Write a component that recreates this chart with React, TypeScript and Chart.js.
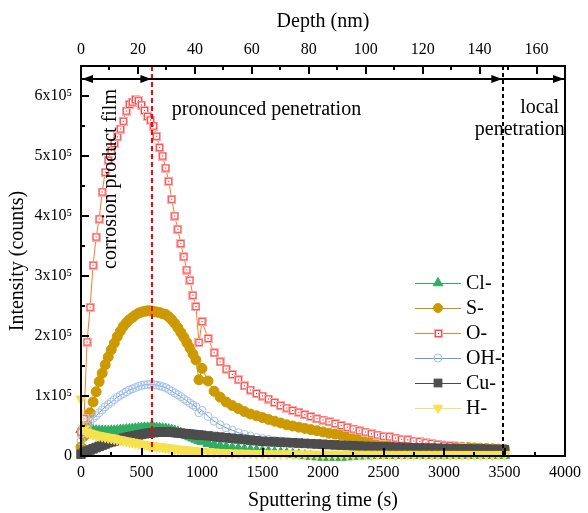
import React, { useEffect, useRef } from 'react';
import { Chart, registerables } from 'chart.js';

Chart.register(...registerables);

// ---------- data (intensity in units of 1e3 counts) ----------
const sputterTime = [
  0, 25, 50, 75, 100, 125, 150, 175, 200, 225,
  250, 275, 300, 325, 350, 375, 400, 425, 450, 475,
  500, 525, 550, 575, 600, 625, 650, 675, 700, 725,
  750, 775, 800, 825, 850, 875, 900, 925, 950, 975,
  1000,
  1050, 1100, 1150, 1200, 1250, 1300, 1350, 1400, 1450, 1500,
  1550, 1600, 1650, 1700, 1750, 1800, 1850, 1900, 1950, 2000,
  2050, 2100, 2150, 2200, 2250, 2300, 2350, 2400, 2450, 2500,
  2550, 2600, 2650, 2700, 2750, 2800, 2850, 2900, 2950, 3000,
  3050, 3100, 3150, 3200, 3250, 3300, 3350, 3400, 3450, 3500,
];

const clMinus = [
  44, 45, 44, 43, 42.5, 42, 42, 41.5, 41.5, 41.5,
  42, 42, 42.5, 43, 43.5, 44, 44.5, 45, 45.5, 46,
  46.5, 47, 47, 47, 47, 46.5, 46, 45.5, 45, 44,
  43, 41.5, 40, 38, 36, 34, 32, 30, 28, 26,
  24,
  21, 18.5, 16.5, 15, 13.5, 12, 11, 10, 9, 8,
  7, 6, 5, 4, 3, 2, 0.5, -0.5, -1.5, -2,
  -2, -2, -2, -1.5, -0.5, 0, 0.5, 0.5, 1, 1,
  1, 1, 1, 1, 1, 1, 1, 1, 1, 1,
  1, 1, 1, 1, 1, 1, 1, 1, 1, 1,
];

const sMinus = [
  15, 33, 52, 72, 90, 107, 124, 138, 152, 165,
  177, 188, 199, 208, 216, 222, 227, 231, 235, 238,
  240, 241, 242, 242, 241, 240, 239, 237, 236, 232,
  227, 221, 214, 206, 198, 189, 180, 170, 160, 127,
  146,
  125, 108, 98, 90, 84, 79, 74, 70, 67, 64,
  61, 58, 55, 52, 50, 48, 46, 44, 42, 40,
  38, 36.5, 35, 33.5, 32, 31, 30, 28.5, 27.5, 26.5,
  25, 24, 23, 22, 21, 20, 19, 18, 17, 16.5,
  16, 15, 14.5, 14, 13.5, 13, 12.5, 12, 11.5, 11,
];

const oMinus = [
  40, 62, 190, 248, 318, 365, 395, 440, 473, 493,
  509, 521, 532, 545, 558, 575, 586, 590, 594, 592,
  585, 576, 566, 560, 550, 533, 514, 500, 480, 458,
  428, 400, 378, 354, 332, 310, 293, 268, 249, 189,
  224,
  196, 172, 157, 145, 136, 127, 117, 110, 104, 100,
  95, 89, 84, 80, 76, 73, 69, 66, 62, 60,
  57, 54, 51, 48, 45, 42, 40, 37, 35, 33,
  32, 30, 28, 27, 25, 24, 22, 21, 19.5, 18,
  17, 15, 14, 13, 12, 11, 10, 9.5, 9, 8,
];

const ohMinus = [
  25, 42, 50, 57, 63, 67, 72, 77, 82, 86,
  90, 94, 98, 101, 104, 107, 110, 112, 114, 116,
  117.5, 118.5, 119, 119.5, 119, 118, 117, 115.5, 114, 111,
  108, 105, 102, 99, 95, 92, 88, 85, 82, 72,
  76,
  66, 58, 52, 47, 43, 39, 36, 33.5, 31, 29,
  27.5, 26, 25, 24, 23, 22, 21, 20, 19.5, 19,
  18.5, 18, 17.5, 17, 16.5, 16, 15.5, 15, 14.5, 14,
  13.5, 13, 12.5, 12, 11.8, 11.5, 11.2, 11, 10.7, 10.4,
  10.1, 9.8, 9.5, 9.2, 9, 8.7, 8.4, 8.2, 8, 7.8,
];

const cuMinus = [
  3, 6, 8, 10, 12, 14, 16, 18, 20, 22,
  23.5, 25, 26.5, 28, 29.5, 31, 32, 33, 34, 35,
  36, 37, 38, 38.5, 39, 39.5, 40, 40, 40, 40,
  39.5, 39, 38.5, 38, 37.5, 37, 36.5, 36, 35.5, 35,
  34.5,
  33.5, 32.5, 31.5, 30.5, 29.5, 28.5, 27.5, 26.5, 25.5, 24.5,
  24, 23.5, 23, 22.5, 22, 21.5, 21, 20.5, 20, 19.5,
  19, 18.5, 18, 17.5, 17, 16.5, 16, 15.8, 15.5, 15.2,
  15, 14.7, 14.4, 14.1, 13.8, 13.5, 13.3, 13.1, 12.9, 12.7,
  12.5, 12.3, 12.1, 11.9, 11.7, 11.5, 11.3, 11.1, 10.9, 10.7,
];

const hMinus = [
  95, 45, 40, 38, 36.5, 35, 34, 33, 32, 31,
  30, 29, 28, 27, 26, 25, 24, 23, 22, 21,
  20, 19, 18, 17.5, 17, 16, 15.5, 15, 14, 13.5,
  13, 12, 11.5, 11, 10.5, 10, 9.5, 9, 8.5, 8,
  7.5,
  7, 6.5, 6, 5.5, 5, 4.8, 4.6, 4.4, 4.2, 4,
  3.9, 3.8, 3.7, 3.6, 3.5, 3.4, 3.3, 3.2, 3.1, 3,
  3, 3, 3, 2.9, 2.9, 2.9, 2.8, 2.8, 2.8, 2.8,
  2.7, 2.7, 2.7, 2.7, 2.7, 2.7, 2.7, 2.7, 2.7, 2.7,
  2.6, 2.6, 2.6, 2.6, 2.6, 2.6, 2.6, 2.6, 2.6, 2.6,
];

const seriesLabels = ['Cl-', 'S-', 'O-', 'OH-', 'Cu-', 'H-'];
const seriesValues = [clMinus, sMinus, oMinus, ohMinus, cuMinus, hMinus];
const UNIT = 1000;

// axes and tick labels
const timeMax = 4000;
const timeTicks = [0, 500, 1000, 1500, 2000, 2500, 3000, 3500, 4000];
const intensityMax = 650000;
const intensityTicks = [0, 100000, 200000, 300000, 400000, 500000, 600000];
const intensityTickLabels = ['0', '1x10\u2075', '2x10\u2075', '3x10\u2075', '4x10\u2075', '5x10\u2075', '6x10\u2075'];
const depthMax = 170; // nm at 4000 s
const depthTicks = [0, 20, 40, 60, 80, 100, 120, 140, 160];

// annotation anchors (in axis values)
const filmEndTime = 590;
const localStartTime = 3490;
const arrowLevel = 628000;

const FONT = '"Liberation Serif", "Times New Roman", serif';

type Spec = { line: string; fill: string; stroke: string; style: string; r: number; rot: number; lr: number };
const styles: Spec[] = [
  { line: '#2FAE62', fill: '#2FAE62', stroke: '#2FAE62', style: 'triangle', r: 6, rot: 0, lr: 5.5 },
  { line: '#C99700', fill: '#CC9A00', stroke: '#CC9A00', style: 'circle', r: 5, rot: 0, lr: 4.5 },
  { line: '#FF7A2E', fill: '#FFFFFF', stroke: '#FF4A4A', style: 'squaredot', r: 4.5, rot: 0, lr: 4.5 },
  { line: '#6C98CF', fill: 'rgba(255,255,255,0)', stroke: '#A3C2EA', style: 'circle', r: 4, rot: 0, lr: 4 },
  { line: '#4A4A4A', fill: '#4D4D4D', stroke: '#4D4D4D', style: 'rect', r: 6, rot: 0, lr: 5.5 },
  { line: '#F3E36A', fill: '#F6E24E', stroke: '#F6E24E', style: 'triangle', r: 6, rot: 180, lr: 5.5 },
];

function makeSquareDot(): HTMLCanvasElement {
  const c = document.createElement('canvas');
  c.width = 9;
  c.height = 9;
  const g = c.getContext('2d')!;
  g.fillStyle = '#FFFFFF';
  g.fillRect(0, 0, 9, 9);
  g.lineWidth = 1;
  g.strokeStyle = '#FFB0B0';
  g.strokeRect(0.5, 0.5, 8, 8);
  g.strokeStyle = '#FF4545';
  g.strokeRect(1.5, 1.5, 6, 6);
  g.fillStyle = '#E00000';
  g.fillRect(4, 4, 1, 1);
  return c;
}

function drawMarker(ctx: CanvasRenderingContext2D, s: Spec, x: number, y: number, img: HTMLCanvasElement) {
  const r = s.lr;
  ctx.save();
  ctx.fillStyle = s.fill;
  ctx.strokeStyle = s.stroke;
  ctx.lineWidth = 1;
  ctx.setLineDash([]);
  if (s.style === 'squaredot') {
    ctx.drawImage(img, Math.round(x - img.width / 2), Math.round(y - img.height / 2));
  } else if (s.style === 'circle') {
    ctx.beginPath();
    ctx.arc(x, y, r, 0, Math.PI * 2);
    ctx.fill();
    ctx.stroke();
  } else if (s.style === 'rect') {
    const h = r * Math.SQRT1_2;
    ctx.fillRect(x - h, y - h, 2 * h, 2 * h);
    ctx.strokeRect(x - h, y - h, 2 * h, 2 * h);
  } else {
    let rad = (s.rot * Math.PI) / 180;
    ctx.beginPath();
    for (let i = 0; i < 3; i++) {
      const px = x + Math.sin(rad) * r;
      const py = y - Math.cos(rad) * r;
      if (i === 0) ctx.moveTo(px, py);
      else ctx.lineTo(px, py);
      rad += (2 * Math.PI) / 3;
    }
    ctx.closePath();
    ctx.fill();
    ctx.stroke();
  }
  ctx.restore();
}

export default function App() {
  const ref = useRef<HTMLCanvasElement>(null);

  useEffect(() => {
    const canvas = ref.current;
    if (!canvas) return;
    const squareDot = makeSquareDot();

    const datasets = seriesLabels.map((label, i) => {
      const s = styles[i];
      return {
        label,
        data: sputterTime.map((t, k) => ({ x: t, y: seriesValues[i][k] * UNIT })),
        borderColor: s.line,
        borderWidth: 1,
        backgroundColor: s.fill,
        pointStyle: s.style === 'squaredot' ? squareDot : s.style,
        pointRotation: s.rot,
        pointRadius: s.r,
        pointBackgroundColor: s.fill,
        pointBorderColor: s.stroke,
        pointBorderWidth: 1,
        tension: 0,
        fill: false,
        clip: 8,
        order: seriesLabels.length - 1 - i,
        xAxisID: 'x',
        yAxisID: 'y',
      };
    });

    const overlay = {
      id: 'overlay',
      afterDraw(chart: any) {
        const ctx: CanvasRenderingContext2D = chart.ctx;
        const { left, right, top, bottom } = chart.chartArea;
        const xs = chart.scales.x;
        const ys = chart.scales.y;
        const xt = chart.scales.x2;
        ctx.save();

        // region boundaries
        ctx.lineWidth = 2;
        ctx.strokeStyle = '#FF0000';
        ctx.setLineDash([5, 3]);
        let px = Math.round(xs.getPixelForValue(filmEndTime));
        ctx.beginPath();
        ctx.moveTo(px, top);
        ctx.lineTo(px, bottom - 4);
        ctx.stroke();
        ctx.strokeStyle = '#000000';
        ctx.setLineDash([4, 3]);
        px = Math.round(xs.getPixelForValue(localStartTime));
        ctx.beginPath();
        ctx.moveTo(px, top);
        ctx.lineTo(px, bottom);
        ctx.stroke();
        ctx.setLineDash([]);

        // frame
        ctx.strokeStyle = '#000000';
        ctx.lineWidth = 2;
        ctx.strokeRect(left, top, right - left, bottom - top);

        // inward ticks (major at labelled ticks, minor halfway)
        ctx.beginPath();
        const yStep = intensityTicks[1] - intensityTicks[0];
        for (let v = 0; v <= intensityMax + 1; v += yStep / 2) {
          const y = Math.round(ys.getPixelForValue(v));
          const len = v % yStep === 0 ? 8 : 4;
          ctx.moveTo(left, y);
          ctx.lineTo(left + len, y);
        }
        const xStep = timeTicks[1] - timeTicks[0];
        for (let v = 0; v <= timeMax; v += xStep / 2) {
          const x = Math.round(xs.getPixelForValue(v));
          const len = v % xStep === 0 ? 8 : 4;
          ctx.moveTo(x, bottom);
          ctx.lineTo(x, bottom - len);
        }
        const dStep = depthTicks[1] - depthTicks[0];
        for (let v = 0; v <= depthMax; v += dStep / 2) {
          const x = Math.round(xt.getPixelForValue(v));
          const len = v % dStep === 0 ? 8 : 4;
          ctx.moveTo(x, top);
          ctx.lineTo(x, top + len);
        }
        ctx.stroke();

        // arrows
        const ay = Math.round(ys.getPixelForValue(arrowLevel));
        ctx.beginPath();
        ctx.moveTo(left, ay);
        ctx.lineTo(right, ay);
        ctx.stroke();
        ctx.fillStyle = '#000000';
        const head = (tip: number, dir: number) => {
          ctx.beginPath();
          ctx.moveTo(tip, ay);
          ctx.lineTo(tip - dir * 11, ay - 4);
          ctx.lineTo(tip - dir * 11, ay + 4);
          ctx.closePath();
          ctx.fill();
        };
        head(left + 1, -1);
        head(xs.getPixelForValue(filmEndTime) - 1, 1);
        head(xs.getPixelForValue(localStartTime) - 1, 1);
        head(right - 1, 1);

        // labels
        ctx.font = `20px ${FONT}`;
        ctx.fillStyle = '#000000';
        ctx.textBaseline = 'alphabetic';
        ctx.textAlign = 'left';
        ctx.fillText('pronounced penetration', xs.getPixelForValue(750), top + 49);
        ctx.fillText('local', xs.getPixelForValue(3630), top + 47);
        ctx.fillText('penetration', xs.getPixelForValue(3255), top + 69);
        ctx.save();
        ctx.translate(xs.getPixelForValue(245), top + 113);
        ctx.rotate(-Math.PI / 2);
        ctx.textAlign = 'center';
        ctx.textBaseline = 'middle';
        ctx.fillText('corrosion product film', 0, 0);
        ctx.restore();

        // legend
        const lx = 415;
        const ly0 = 283;
        const rowH = 25;
        seriesLabels.forEach((label, i) => {
          const s = styles[i];
          const y = ly0 + i * rowH;
          ctx.strokeStyle = s.line;
          ctx.lineWidth = 1;
          ctx.beginPath();
          ctx.moveTo(lx, y + 0.5);
          ctx.lineTo(lx + 46, y + 0.5);
          ctx.stroke();
          drawMarker(ctx, s, lx + 23, y, squareDot);
          ctx.fillStyle = '#000000';
          ctx.font = `20px ${FONT}`;
          ctx.textAlign = 'left';
          ctx.textBaseline = 'middle';
          ctx.fillText(label, lx + 51, y + 1);
        });

        ctx.restore();
      },
    };

    const tickFont = { family: FONT, size: 16 };
    const titleFont = { family: FONT, size: 20, weight: 'normal' as const };
    const setTicks = (values: number[]) => (scale: any) => {
      scale.ticks = values.map((value) => ({ value }));
    };

    const chart = new Chart(canvas, {
      type: 'line',
      data: { datasets: datasets as any },
      options: {
        animation: false,
        responsive: false,
        maintainAspectRatio: false,
        devicePixelRatio: 1,
        layout: { padding: { left: 0, right: 18, top: 0, bottom: 0 } },
        plugins: { legend: { display: false }, tooltip: { enabled: false } },
        scales: {
          x: {
            type: 'linear',
            position: 'bottom',
            bounds: 'data',
            min: 0,
            max: timeMax,
            grid: { display: false, drawTicks: false },
            border: { display: false },
            afterBuildTicks: setTicks(timeTicks),
            ticks: {
              autoSkip: false,
              maxRotation: 0,
              padding: 7,
              color: '#000',
              font: tickFont,
              callback: (v: any) => String(v),
            },
            title: { display: true, text: 'Sputtering time (s)', color: '#000', font: titleFont, padding: { top: 0, bottom: 0 } },
            afterFit: (s: any) => {
              s.height = 57;
            },
          },
          x2: {
            type: 'linear',
            position: 'top',
            bounds: 'data',
            min: 0,
            max: depthMax,
            grid: { display: false, drawTicks: false },
            border: { display: false },
            afterBuildTicks: setTicks(depthTicks),
            ticks: {
              autoSkip: false,
              maxRotation: 0,
              padding: 7,
              color: '#000',
              font: tickFont,
              callback: (v: any) => String(v),
            },
            title: { display: true, text: 'Depth (nm)', color: '#000', font: titleFont, padding: { top: 10, bottom: 0 } },
            afterFit: (s: any) => {
              s.height = 66;
            },
          },
          y: {
            type: 'linear',
            position: 'left',
            bounds: 'data',
            min: 0,
            max: intensityMax,
            grid: { display: false, drawTicks: false },
            border: { display: false },
            afterBuildTicks: setTicks(intensityTicks),
            ticks: {
              autoSkip: false,
              padding: 9,
              color: '#000',
              font: tickFont,
              callback: (v: any, i: number) => intensityTickLabels[i],
            },
            title: { display: true, text: 'Intensity (counts)', color: '#000', font: titleFont, padding: { top: 6, bottom: 0 } },
            afterFit: (s: any) => {
              s.width = 81;
            },
          },
        },
      } as any,
      plugins: [overlay],
    });

    return () => chart.destroy();
  }, []);

  return (
    <div style={{ position: 'absolute', left: 0, top: 0, width: 588, height: 513, background: '#fff' }}>
      <canvas ref={ref} width={588} height={513} style={{ display: 'block', width: 588, height: 513 }} />
    </div>
  );
}
